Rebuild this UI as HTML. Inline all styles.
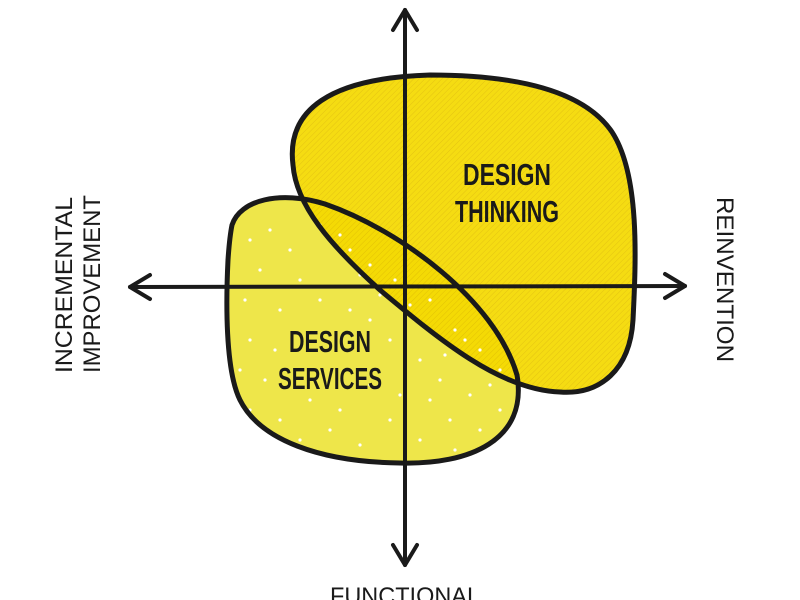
<!DOCTYPE html>
<html><head><meta charset="utf-8"><style>html,body{margin:0;padding:0;background:#fff;width:800px;height:600px;overflow:hidden}</style></head>
<body>
<svg width="800" height="600" viewBox="0 0 800 600" xmlns="http://www.w3.org/2000/svg">
<defs>
<pattern id="hatch" width="4" height="4" patternUnits="userSpaceOnUse" patternTransform="rotate(45)">
<rect width="4" height="4" fill="#f4d900"/>
<line x1="0" y1="0" x2="0" y2="4" stroke="#e2bf00" stroke-width="1"/>
</pattern>
</defs>
<path id="sv" d="M232,225 C240,200 280,190 325,204 C400,230 495,300 517,375 C528,440 470,465 400,463 C320,462 260,440 240,400 C225,370 226,300 228,260 C229,245 230,235 232,225 Z" fill="#eee64a"/>
<path id="th" d="M293,165 C286,110 330,78 430,75 C520,75 585,92 612,132 C640,175 636,260 633,320 C630,370 600,395 560,392 C500,390 440,340 380,290 C330,245 296,205 293,165 Z" fill="url(#hatch)" fill-opacity="0.93"/>
<g fill="#fff">
<circle cx="250" cy="240" r="1.6"/><circle cx="270" cy="230" r="1.6"/><circle cx="290" cy="250" r="1.6"/><circle cx="260" cy="270" r="1.6"/><circle cx="300" cy="280" r="1.6"/><circle cx="245" cy="300" r="1.6"/><circle cx="280" cy="310" r="1.6"/><circle cx="320" cy="300" r="1.6"/><circle cx="350" cy="310" r="1.6"/><circle cx="250" cy="340" r="1.6"/><circle cx="265" cy="380" r="1.6"/><circle cx="250" cy="410" r="1.6"/><circle cx="280" cy="420" r="1.6"/><circle cx="300" cy="440" r="1.6"/><circle cx="330" cy="430" r="1.6"/><circle cx="360" cy="445" r="1.6"/><circle cx="390" cy="420" r="1.6"/><circle cx="420" cy="440" r="1.6"/><circle cx="450" cy="420" r="1.6"/><circle cx="480" cy="430" r="1.6"/><circle cx="500" cy="410" r="1.6"/><circle cx="470" cy="395" r="1.6"/><circle cx="440" cy="380" r="1.6"/><circle cx="420" cy="360" r="1.6"/><circle cx="390" cy="340" r="1.6"/><circle cx="370" cy="320" r="1.6"/><circle cx="430" cy="400" r="1.6"/><circle cx="400" cy="395" r="1.6"/><circle cx="340" cy="410" r="1.6"/><circle cx="310" cy="400" r="1.6"/><circle cx="350" cy="250" r="1.6"/><circle cx="370" cy="265" r="1.6"/><circle cx="395" cy="280" r="1.6"/><circle cx="430" cy="300" r="1.6"/><circle cx="455" cy="330" r="1.6"/><circle cx="480" cy="350" r="1.6"/><circle cx="500" cy="370" r="1.6"/><circle cx="340" cy="235" r="1.6"/><circle cx="320" cy="225" r="1.6"/><circle cx="380" cy="295" r="1.6"/><circle cx="415" cy="320" r="1.6"/><circle cx="445" cy="355" r="1.6"/><circle cx="275" cy="350" r="1.6"/><circle cx="240" cy="370" r="1.6"/><circle cx="285" cy="450" r="1.6"/><circle cx="455" cy="450" r="1.6"/><circle cx="370" cy="385" r="1.6"/><circle cx="360" cy="275" r="1.6"/><circle cx="410" cy="305" r="1.6"/><circle cx="465" cy="340" r="1.6"/><circle cx="490" cy="385" r="1.6"/></g>
<g fill="none" stroke="#1a1a1a" stroke-width="5">
<path d="M232,225 C240,200 280,190 325,204 C400,230 495,300 517,375 C528,440 470,465 400,463 C320,462 260,440 240,400 C225,370 226,300 228,260 C229,245 230,235 232,225 Z"/>
<path d="M293,165 C286,110 330,78 430,75 C520,75 585,92 612,132 C640,175 636,260 633,320 C630,370 600,395 560,392 C500,390 440,340 380,290 C330,245 296,205 293,165 Z"/>
</g>
<g stroke="#1a1a1a" stroke-width="4" fill="none" stroke-linecap="round" stroke-linejoin="round">
<line x1="405" y1="10" x2="405" y2="565"/>
<line x1="130" y1="287" x2="685" y2="286"/>
<polyline points="393,30 405,10 417,30"/>
<polyline points="393,545 405,565 417,545"/>
<polyline points="150,275 130,287 150,299"/>
<polyline points="665,274 685,286 665,298"/>
</g>
<g font-family="Liberation Sans Narrow, Liberation Sans, sans-serif" font-weight="bold" font-size="31" fill="#1a1a1a" text-anchor="middle">
<text x="507" y="185" textLength="88" lengthAdjust="spacingAndGlyphs">DESIGN</text>
<text x="507" y="222" textLength="104" lengthAdjust="spacingAndGlyphs">THINKING</text>
<text x="330" y="352" textLength="82" lengthAdjust="spacingAndGlyphs">DESIGN</text>
<text x="330" y="389" textLength="104" lengthAdjust="spacingAndGlyphs">SERVICES</text>
</g>
<g font-family="Liberation Sans, sans-serif" font-size="24" fill="#1a1a1a">
<text transform="translate(72,373) rotate(-90)" textLength="176" lengthAdjust="spacingAndGlyphs">INCREMENTAL</text>
<text transform="translate(100,373) rotate(-90)" textLength="178" lengthAdjust="spacingAndGlyphs">IMPROVEMENT</text>
<text transform="translate(717,197) rotate(90)" textLength="165" lengthAdjust="spacingAndGlyphs">REINVENTION</text>
<text x="330" y="604" textLength="150" lengthAdjust="spacingAndGlyphs">FUNCTIONAL</text>
</g>
</svg>
</body></html>
